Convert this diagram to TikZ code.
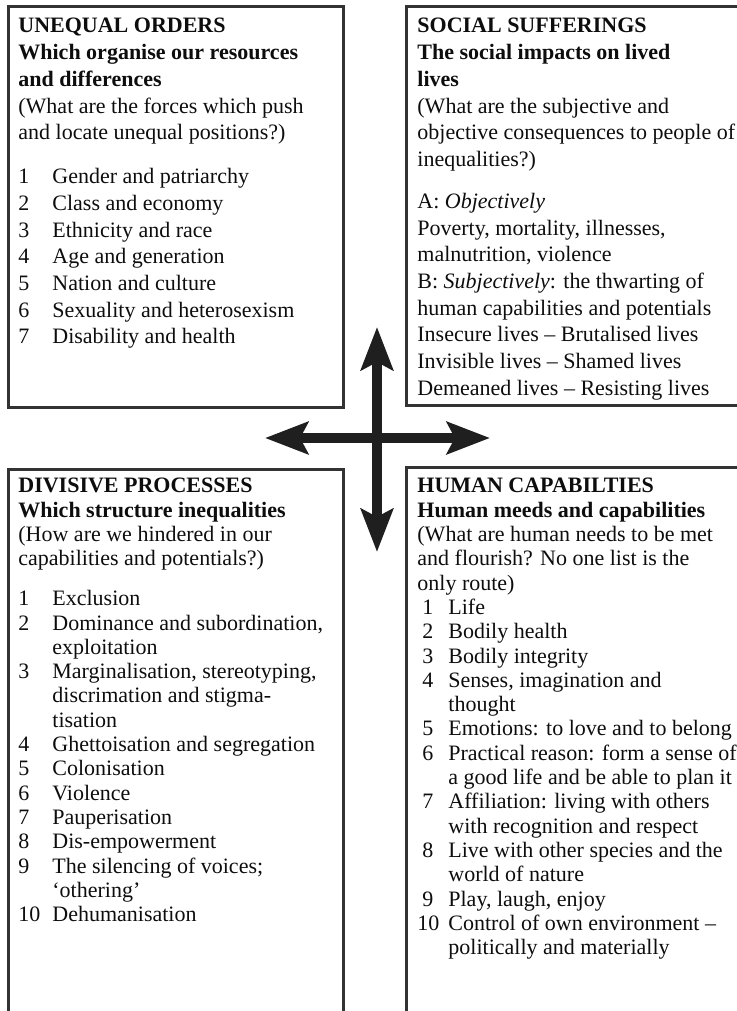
\documentclass[tikz,border=0pt]{standalone}
\usepackage{fontspec}
\setmainfont{Liberation Serif}
\usetikzlibrary{arrows.meta,calc}
\usepackage{xcolor}

\newcommand{\nitem}[2]{\makebox[17pt][l]{#1}#2}
\newcommand{\ncont}[1]{\hspace*{17pt}#1}
\newcommand{\hitem}[2]{\makebox[15.5pt][l]{\hspace*{2.5pt}#1}#2}
\newcommand{\hcont}[1]{\hspace*{15.5pt}#1}

\begin{document}
\begin{tikzpicture}[x=0.5pt,y=-0.5pt]
	\tikzstyle{frame} = [rectangle, draw=black!80, line width=1.4pt, anchor=north west, inner sep=0pt]
	\tikzstyle{toptxt} = [anchor=north west, inner sep=0pt, align=left, text=black!95, font=\fontsize{11}{13.35}\selectfont]
	\tikzstyle{lowtxt} = [anchor=north west, inner sep=0pt, align=left, text=black!95, font=\fontsize{11}{12.15}\selectfont]
	\tikzstyle{arrow} = [line width=5pt, draw=black!88, {Stealth[length=21.5pt,width=16pt,inset=4pt]}-{Stealth[length=21.5pt,width=16pt,inset=4pt]}]
  \path[use as bounding box] (0,0) rectangle (737,1011);
  \clip (0,0) rectangle (737,1011);

  \node(ordbox)[frame, minimum width=167.5pt, minimum height=200.5pt] at (7,5) {};
  \node(sufbox)[frame, minimum width=170pt, minimum height=199.5pt] at (405,5) {};
  \node(divbox)[frame, minimum width=167.5pt, minimum height=285pt] at (7,468) {};
  \node(capbox)[frame, minimum width=170pt, minimum height=286pt] at (405,466) {};

  \node(ordtxt)[toptxt] at ($(ordbox.north west)+(11,13)$) {\textbf{UNEQUAL ORDERS}\\
    \textbf{Which organise our resources}\\
    \textbf{and differences}\\
    (What are the forces which push\\
    and locate unequal positions?)\\[8.6pt]
    \nitem{1}{Gender and patriarchy}\\
    \nitem{2}{Class and economy}\\
    \nitem{3}{Ethnicity and race}\\
    \nitem{4}{Age and generation}\\
    \nitem{5}{Nation and culture}\\
    \nitem{6}{Sexuality and heterosexism}\\
    \nitem{7}{Disability and health}};

  \node(suftxt)[toptxt] at ($(sufbox.north west)+(12,13)$) {\textbf{SOCIAL SUFFERINGS}\\
    \textbf{The social impacts on lived}\\
    \textbf{lives}\\
    (What are the subjective and\\
    objective consequences to people of\\
    inequalities?)\\[7.6pt]
    A: \textit{Objectively}\\
    Poverty, mortality, illnesses,\\
    malnutrition, violence\\
    B: \textit{Subjectively}: the thwarting of\\
    human capabilities and potentials\\
    Insecure lives -- Brutalised lives\\
    Invisible lives -- Shamed lives\\
    Demeaned lives -- Resisting lives};

  \node(divtxt)[lowtxt] at ($(divbox.north west)+(11,10)$) {\textbf{DIVISIVE PROCESSES}\\
    \textbf{Which structure inequalities}\\
    (How are we hindered in our\\
    capabilities and potentials?)\\[7.8pt]
    \nitem{1}{Exclusion}\\
    \nitem{2}{Dominance and subordination,}\\
    \ncont{exploitation}\\
    \nitem{3}{Marginalisation, stereotyping,}\\
    \ncont{discrimation and stigma-}\\
    \ncont{tisation}\\
    \nitem{4}{Ghettoisation and segregation}\\
    \nitem{5}{Colonisation}\\
    \nitem{6}{Violence}\\
    \nitem{7}{Pauperisation}\\
    \nitem{8}{Dis-empowerment}\\
    \nitem{9}{The silencing of voices;}\\
    \ncont{`othering'}\\
    \nitem{10}{Dehumanisation}};

  \node(captxt)[lowtxt] at ($(capbox.north west)+(12,12)$) {\textbf{HUMAN CAPABILTIES}\\
    \textbf{Human meeds and capabilities}\\
    (What are human needs to be met\\
    and flourish? No one list is the\\
    only route)\\
    \hitem{1}{Life}\\
    \hitem{2}{Bodily health}\\
    \hitem{3}{Bodily integrity}\\
    \hitem{4}{Senses, imagination and}\\
    \hcont{thought}\\
    \hitem{5}{Emotions: to love and to belong}\\
    \hitem{6}{Practical reason: form a sense of}\\
    \hcont{a good life and be able to plan it}\\
    \hitem{7}{Affiliation: living with others}\\
    \hcont{with recognition and respect}\\
    \hitem{8}{Live with other species and the}\\
    \hcont{world of nature}\\
    \hitem{9}{Play, laugh, enjoy}\\
    \makebox[15.5pt][l]{10}Control of own environment --\\
    \hcont{politically and materially}};

  \coordinate(hub) at (377,438);
  \coordinate(up) at (377,327);
  \coordinate(down) at (377,552);
  \coordinate(left) at (265,438);
  \coordinate(right) at (490,438);

  \draw [arrow] (left) -- (right);
  \draw [arrow] (up) -- (down);
\end{tikzpicture}
\end{document}
